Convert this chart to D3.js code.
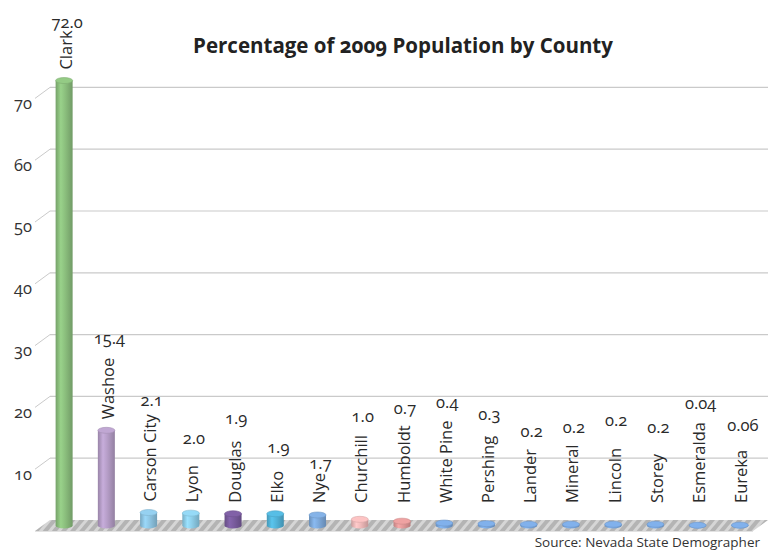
<!DOCTYPE html>
<html>
<head>
<meta charset="utf-8">
<script src="https://cdn.jsdelivr.net/npm/d3@7"></script>
<style>
  html, body { margin: 0; padding: 0; background: #fff; }
  svg { display: block; font-family: "Open Sans", "Noto Sans", sans-serif; font-variant-numeric: oldstyle-nums; }
</style>
</head>
<body>
<svg id="chart" width="776" height="552"></svg>
<script>
// Share of the 2009 Nevada population, by county (percent)
const counties = ["Clark", "Washoe", "Carson City", "Lyon", "Douglas", "Elko", "Nye",
  "Churchill", "Humboldt", "White Pine", "Pershing", "Lander", "Mineral", "Lincoln",
  "Storey", "Esmeralda", "Eureka"];
const shares = [72.0, 15.4, 2.1, 2.0, 1.9, 1.9, 1.7, 1.0, 0.7, 0.4, 0.3, 0.2, 0.2, 0.2, 0.2, 0.04, 0.06];
const shareLabels = ["72.0", "15.4", "2.1", "2.0", "1.9", "1.9", "1.7", "1.0", "0.7", "0.4",
  "0.3", "0.2", "0.2", "0.2", "0.2", "0.04", "0.06"];
const yTicks = [10, 20, 30, 40, 50, 60, 70];

// ---- presentation ----
const palette = ["#8cc07e", "#b69ec8", "#8ec6e4", "#8ecfea", "#7a5c9e", "#52b4da", "#7eaadc",
  "#f0baba", "#e39a9a", "#7aa8e0", "#7aa8e0", "#7aa8e0", "#7aa8e0", "#7aa8e0", "#7aa8e0",
  "#7aa8e0", "#7aa8e0"];
// gap (px) between the top of each county name and its value label
const labelLift = [9, 20, 15, 28, 23, 24, 11, 20, 18, 19, 22, 18, 18, 28, 27, 20, 25];

const svg = d3.select("#chart");
const depthX = 15, depthY = 11;          // oblique offset of the back wall
const wallLeft = 50, wallRight = 768;

const y = d3.scaleLinear().domain([0, 70]).range([520, 87.4]);   // back wall
const x = d3.scaleBand().domain(counties).range([43, 761]).padding(0);
const barDrop = 5.5;                       // bars stand mid-depth on the floor
const r = 8.5, ry = 3;
const labelSize = 16.5;

const defs = svg.append("defs");

// floor hatch
const pat = defs.append("pattern").attr("id", "hatch").attr("patternUnits", "userSpaceOnUse")
  .attr("width", 7).attr("height", 7).attr("patternTransform", "rotate(40)");
pat.append("rect").attr("width", 7).attr("height", 7).attr("fill", "#b0b0b0");
pat.append("rect").attr("width", 3).attr("height", 7).attr("fill", "#d4d4d4");

// gridlines on the back wall with their oblique stubs
const grid = svg.append("g");
grid.selectAll("line.wall").data(yTicks).join("line")
  .attr("x1", wallLeft).attr("x2", wallRight)
  .attr("y1", d => y(d)).attr("y2", d => y(d))
  .attr("stroke", "#cacaca").attr("stroke-width", 1.2);
grid.selectAll("line.stub").data(yTicks).join("line")
  .attr("x1", wallLeft - depthX).attr("x2", wallLeft)
  .attr("y1", d => y(d) + depthY).attr("y2", d => y(d))
  .attr("stroke", "#cacaca").attr("stroke-width", 1);

// y tick labels
svg.append("g").selectAll("text").data(yTicks).join("text")
  .attr("x", 32).attr("y", d => y(d) + 17)
  .attr("text-anchor", "end").attr("dominant-baseline", "middle")
  .attr("font-size", labelSize).attr("fill", "#333")
  .text(d => d);

// floor
const y0 = y(0);
svg.append("path")
  .attr("d", `M${wallLeft - depthX},${y0 + depthY} L${wallRight - depthX},${y0 + depthY} L${wallRight},${y0} L${wallLeft},${y0} Z`)
  .attr("fill", "url(#hatch)").attr("opacity", 0.95);
svg.append("line")
  .attr("x1", wallLeft - depthX).attr("x2", wallRight - depthX)
  .attr("y1", y0 + depthY + 0.5).attr("y2", y0 + depthY + 0.5)
  .attr("stroke", "#e2e2e2").attr("stroke-width", 1);

// cylinder shading per colour
palette.forEach((c, i) => {
  const base = d3.color(c);
  const g = defs.append("linearGradient").attr("id", "cyl" + i)
    .attr("x1", 0).attr("x2", 1).attr("y1", 0).attr("y2", 0);
  g.append("stop").attr("offset", "0%").attr("stop-color", base.darker(0.5));
  g.append("stop").attr("offset", "30%").attr("stop-color", base.brighter(0.25));
  g.append("stop").attr("offset", "55%").attr("stop-color", base);
  g.append("stop").attr("offset", "100%").attr("stop-color", base.darker(0.6));
});

const bars = svg.append("g").selectAll("g").data(counties).join("g");
const cx = d => x(d) + x.bandwidth() / 2;
const yb = v => y(v) + barDrop;

bars.append("ellipse")
  .attr("cx", cx).attr("cy", yb(0)).attr("rx", r).attr("ry", ry)
  .attr("fill", (d, i) => `url(#cyl${i})`);
bars.append("rect")
  .attr("x", d => cx(d) - r).attr("width", 2 * r)
  .attr("y", (d, i) => yb(shares[i]))
  .attr("height", (d, i) => yb(0) - yb(shares[i]))
  .attr("fill", (d, i) => `url(#cyl${i})`);
bars.append("ellipse")
  .attr("cx", cx).attr("cy", (d, i) => yb(shares[i])).attr("rx", r).attr("ry", ry)
  .attr("fill", (d, i) => d3.color(palette[i]).brighter(0.15))
  .attr("stroke", (d, i) => d3.color(palette[i]).darker(0.3)).attr("stroke-width", 0.6);

// county names (rotated) with value labels above them
const nameStart = i => Math.min(yb(shares[i]) - 11, 503);
const names = svg.append("g").selectAll("text").data(counties).join("text")
  .attr("transform", (d, i) => `translate(${cx(d) + 1},${nameStart(i)}) rotate(-90)`)
  .attr("dominant-baseline", "central")
  .attr("font-size", labelSize).attr("fill", "#2a2a2a")
  .text(d => d);

const nameLen = [];
names.each(function (d, i) { nameLen[i] = this.getComputedTextLength(); });

svg.append("g").selectAll("text").data(shareLabels).join("text")
  .attr("x", (d, i) => cx(counties[i]) + 3)
  .attr("y", (d, i) => nameStart(i) - nameLen[i] - labelLift[i])
  .attr("text-anchor", "middle").attr("dominant-baseline", "central")
  .attr("font-size", labelSize).attr("fill", "#2a2a2a")
  .text(d => d);

// title and source
svg.append("text")
  .attr("x", 403).attr("y", 53).attr("text-anchor", "middle")
  .attr("font-size", 20.5).attr("font-weight", "bold").attr("fill", "#222")
  .text("Percentage of 2009 Population by County");
svg.append("text")
  .attr("x", 760).attr("y", 547).attr("text-anchor", "end")
  .attr("font-size", 13.5).attr("fill", "#333")
  .text("Source: Nevada State Demographer");
</script>
</body>
</html>
